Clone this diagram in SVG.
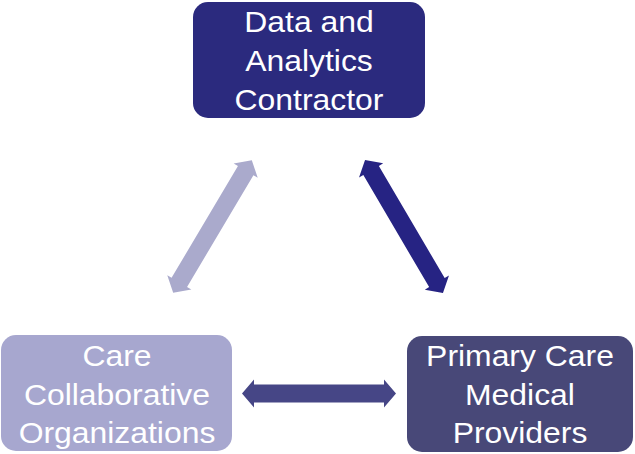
<svg xmlns="http://www.w3.org/2000/svg" width="635" height="454" viewBox="0 0 635 454">
<defs>
<style>
text{font-family:"Liberation Sans",Arial,sans-serif;font-size:29px;fill:#ffffff;text-anchor:middle}
</style>
<polygon id="dbl" points="-77,0 -65,-14 -65,-9 65,-9 65,-14 77,0 65,14 65,9 -65,9 -65,14"/>
</defs>
<rect width="635" height="454" fill="#ffffff"/>
<g id="connectors">
<use href="#dbl" fill="#aaaacc" transform="translate(212.5,226.5) rotate(-59.3)"/>
<use href="#dbl" fill="#262383" transform="translate(404,226.5) rotate(59.6)"/>
<use href="#dbl" fill="#464686" transform="translate(319,393.5)"/>
</g>
<g id="data">
<rect x="193" y="2" width="232" height="116" rx="15" fill="#2b2a7e"/>
<g transform="translate(309,0) scale(1.1,1)">
<text x="0" y="32">Data and</text>
<text x="0" y="71">Analytics</text>
<text x="0" y="110">Contractor</text>
</g>
</g>
<g id="cco">
<rect x="1" y="335" width="231" height="116" rx="15" fill="#a7a7cf"/>
<g transform="translate(117,0) scale(1.1,1)">
<text x="0" y="366">Care</text>
<text x="0" y="405">Collaborative</text>
<text x="0" y="443">Organizations</text>
</g>
</g>
<g id="pcmp">
<rect x="407" y="336" width="226" height="116" rx="15" fill="#484878"/>
<g transform="translate(520,0) scale(1.1,1)">
<text x="0" y="366">Primary Care</text>
<text x="0" y="405">Medical</text>
<text x="0" y="443">Providers</text>
</g>
</g>
</svg>
